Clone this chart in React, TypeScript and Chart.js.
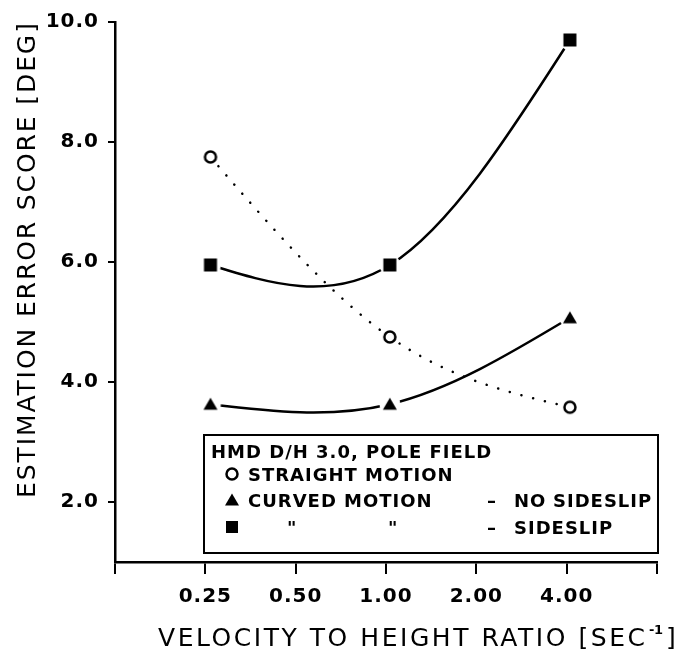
import React, { useEffect, useRef } from 'react';
import { Chart, registerables } from 'chart.js';

Chart.register(...registerables);

// ---- data ----
const velocityRatio = [0.26, 1.03, 4.1];
const straightMotion = [7.75, 4.75, 3.58];
const curvedNoSideslip = [3.63, 3.63, 5.07];
const curvedSideslip = [5.95, 5.95, 9.7];

const xTickValues = [0.125, 0.25, 0.5, 1, 2, 4, 8];
const xTickLabels = ['', '0.25', '0.50', '1.00', '2.00', '4.00', ''];
const yTickValues = [2, 4, 6, 8, 10];

const legendTitle = 'HMD D/H 3.0, POLE FIELD';
const seriesNames = ['STRAIGHT MOTION', 'CURVED MOTION', 'NO SIDESLIP', 'SIDESLIP'];
const xTitle = 'VELOCITY TO HEIGHT RATIO [SEC';
const yTitle = 'ESTIMATION ERROR SCORE [DEG]';

const FONT = "'DejaVu Sans', sans-serif";

function makeMarker(kind: 'circle' | 'triangle' | 'square'): HTMLCanvasElement {
  const size = 24;
  const c = document.createElement('canvas');
  c.width = size;
  c.height = size;
  const g = c.getContext('2d')!;
  const m = size / 2;
  g.fillStyle = '#fff';
  g.beginPath();
  g.arc(m, m, 10.5, 0, Math.PI * 2);
  g.fill();
  g.fillStyle = '#000';
  g.strokeStyle = '#000';
  if (kind === 'circle') {
    g.lineWidth = 2.5;
    g.beginPath();
    g.arc(m, m, 5.5, 0, Math.PI * 2);
    g.stroke();
  } else if (kind === 'triangle') {
    g.beginPath();
    g.moveTo(m, m - 6.5);
    g.lineTo(m + 7, m + 5.5);
    g.lineTo(m - 7, m + 5.5);
    g.closePath();
    g.fill();
  } else {
    g.fillRect(m - 6.5, m - 6.5, 13, 13);
  }
  return c;
}

function drawFitted(ctx: CanvasRenderingContext2D, text: string, x: number, y: number, width: number) {
  (ctx as any).letterSpacing = '0px';
  const w = ctx.measureText(text).width;
  const n = text.length;
  const sp = n > 1 ? (width - w) / (n - 1) : 0;
  (ctx as any).letterSpacing = sp.toFixed(2) + 'px';
  ctx.textAlign = 'left';
  ctx.fillText(text, x, y);
  (ctx as any).letterSpacing = '0px';
}

function drawSpaced(ctx: CanvasRenderingContext2D, text: string, x: number, y: number, sp: number) {
  (ctx as any).letterSpacing = sp + 'px';
  ctx.textAlign = 'left';
  ctx.fillText(text, x, y);
  (ctx as any).letterSpacing = '0px';
}

// smooth curves = natural cubic spline through the plotted points (as in the original plot)
const naturalSplinePlugin = {
  id: 'naturalSpline',
  beforeDatasetDraw(chart: any, args: any) {
    const meta = args.meta;
    meta.dataset.updateControlPoints(chart.chartArea, 'x');
    const p = meta.data;
    const n = p.length;
    if (n < 3) return;
    const h: number[] = [];
    const d: number[] = [];
    for (let i = 0; i < n - 1; i++) {
      h.push(p[i + 1].x - p[i].x);
      d.push((p[i + 1].y - p[i].y) / h[i]);
    }
    // solve for second derivatives M (M0 = Mn-1 = 0)
    const M = new Array(n).fill(0);
    const m = n - 2;
    const a: number[] = [], b: number[] = [], c: number[] = [], r: number[] = [];
    for (let i = 1; i <= m; i++) {
      a.push(h[i - 1]);
      b.push(2 * (h[i - 1] + h[i]));
      c.push(h[i]);
      r.push(6 * (d[i] - d[i - 1]));
    }
    for (let i = 1; i < m; i++) {
      const w = a[i] / b[i - 1];
      b[i] -= w * c[i - 1];
      r[i] -= w * r[i - 1];
    }
    const sol = new Array(m).fill(0);
    sol[m - 1] = r[m - 1] / b[m - 1];
    for (let i = m - 2; i >= 0; i--) sol[i] = (r[i] - c[i] * sol[i + 1]) / b[i];
    for (let i = 0; i < m; i++) M[i + 1] = sol[i];
    const s: number[] = [];
    for (let i = 0; i < n - 1; i++) s.push(d[i] - (h[i] * (2 * M[i] + M[i + 1])) / 6);
    s.push(d[n - 2] + (h[n - 2] * (M[n - 2] + 2 * M[n - 1])) / 6);
    for (let i = 0; i < n; i++) {
      const pt = p[i];
      if (i > 0) {
        const k = h[i - 1] / 3;
        pt.cp1x = pt.x - k;
        pt.cp1y = pt.y - s[i] * k;
      }
      if (i < n - 1) {
        const k = h[i] / 3;
        pt.cp2x = pt.x + k;
        pt.cp2y = pt.y + s[i] * k;
      }
    }
  },
};

const decorPlugin = {
  id: 'decor',
  beforeDraw(chart: any) {
    (chart.ctx as any).letterSpacing = '1px';
  },
  afterDraw(chart: any) {
    const ctx: CanvasRenderingContext2D = chart.ctx;
    ctx.save();
    ctx.fillStyle = '#000';
    ctx.strokeStyle = '#000';
    ctx.textBaseline = 'alphabetic';

    // Y axis title (rotated)
    ctx.save();
    ctx.font = `25px ${FONT}`;
    ctx.translate(35, 498);
    ctx.rotate(-Math.PI / 2);
    drawFitted(ctx, yTitle, 0, 0, 475);
    ctx.restore();

    // X axis title with superscript
    ctx.font = `25px ${FONT}`;
    drawFitted(ctx, xTitle, 158, 646, 487);
    ctx.font = `bold 13px ${FONT}`;
    drawFitted(ctx, '-1', 649, 634, 14);
    ctx.font = `25px ${FONT}`;
    drawFitted(ctx, ']', 666, 646, 10);

    // Legend box
    ctx.lineWidth = 2;
    ctx.strokeRect(204, 435, 454, 118);
    ctx.font = `bold 18px ${FONT}`;
    const cap = 6.5;
    const rows = [451, 474, 500, 527];
    const mx = 232;
    const tx = 248;
    drawSpaced(ctx, legendTitle, 211, rows[0] + cap, 1);
    ctx.lineWidth = 2.5;
    ctx.beginPath();
    ctx.arc(mx, rows[1], 5.5, 0, Math.PI * 2);
    ctx.stroke();
    ctx.beginPath();
    ctx.moveTo(mx, rows[2] - 6.5);
    ctx.lineTo(mx + 7, rows[2] + 5.5);
    ctx.lineTo(mx - 7, rows[2] + 5.5);
    ctx.closePath();
    ctx.fill();
    ctx.fillRect(mx - 6, rows[3] - 6, 12, 12);
    drawSpaced(ctx, seriesNames[0], tx, rows[1] + cap, 1);
    drawSpaced(ctx, seriesNames[1], tx, rows[2] + cap, 1);
    drawSpaced(ctx, '\u2013', 487, rows[2] + cap, 0);
    drawSpaced(ctx, 'NO', 514, rows[2] + cap, 1);
    drawSpaced(ctx, seriesNames[2].split(' ')[1], 553, rows[2] + cap, 1);
    drawSpaced(ctx, '"', 287, rows[3] + cap, 0);
    drawSpaced(ctx, '"', 388, rows[3] + cap, 0);
    drawSpaced(ctx, '\u2013', 487, rows[3] + cap, 0);
    drawSpaced(ctx, seriesNames[3], 514, rows[3] + cap, 1);
    ctx.restore();
  },
};

export default function App() {
  const ref = useRef<HTMLCanvasElement | null>(null);
  useEffect(() => {
    document.body.style.margin = '0';
    const canvas = ref.current!;
    const circle = makeMarker('circle');
    const tri = makeMarker('triangle');
    const sq = makeMarker('square');
    const pts = (ys: number[]) => velocityRatio.map((x, i) => ({ x, y: ys[i] }));
    const tickFont = { family: FONT, size: 20, weight: 'bold' as const };
    const chart = new Chart(canvas, {
      type: 'line',
      data: {
        datasets: [
          {
            label: 'STRAIGHT MOTION',
            data: pts(straightMotion),
            borderColor: '#000',
            borderWidth: 2.5,
            borderDash: [0.1, 12],
            borderCapStyle: 'round',
            tension: 0.4,
            pointStyle: circle as any,
            pointRadius: 6,
          },
          {
            label: 'CURVED MOTION - NO SIDESLIP',
            data: pts(curvedNoSideslip),
            borderColor: '#000',
            borderWidth: 2.5,
            tension: 0.4,
            pointStyle: tri as any,
            pointRadius: 6,
          },
          {
            label: 'CURVED MOTION - SIDESLIP',
            data: pts(curvedSideslip),
            borderColor: '#000',
            borderWidth: 2.5,
            tension: 0.4,
            pointStyle: sq as any,
            pointRadius: 6,
          },
        ],
      } as any,
      options: {
        animation: false,
        responsive: false,
        events: [],
        layout: { padding: { top: 22, right: 38, left: 0, bottom: 0 } },
        plugins: { legend: { display: false }, tooltip: { enabled: false } },
        scales: {
          x: {
            type: 'logarithmic',
            min: 0.125,
            max: 8,
            afterBuildTicks: (s: any) => {
              s.ticks = xTickValues.map((v) => ({ value: v }));
            },
            afterFit: (s: any) => {
              s.height = 96;
            },
            ticks: {
              autoSkip: false,
              maxRotation: 0,
              color: '#000',
              font: tickFont,
              padding: 11,
              callback: (_v: any, i: number) => xTickLabels[i],
            },
            grid: { drawOnChartArea: false, drawTicks: true, tickLength: 12, color: '#000', lineWidth: 2 },
            border: { display: true, color: '#000', width: 2.5 },
          },
          y: {
            type: 'linear',
            min: 1,
            max: 10,
            afterBuildTicks: (s: any) => {
              s.ticks = yTickValues.map((v) => ({ value: v }));
            },
            afterFit: (s: any) => {
              s.width = 115;
            },
            ticks: {
              color: '#000',
              font: tickFont,
              padding: 9,
              callback: (v: any) => Number(v).toFixed(1),
            },
            grid: { drawOnChartArea: false, drawTicks: true, tickLength: 7, color: '#000', lineWidth: 2 },
            border: { display: true, color: '#000', width: 2.5 },
          },
        },
      } as any,
      plugins: [naturalSplinePlugin, decorPlugin],
    });
    return () => chart.destroy();
  }, []);
  return (
    <div style={{ width: 695, height: 658 }}>
      <canvas ref={ref} width={695} height={658} style={{ width: 695, height: 658, display: 'block' }} />
    </div>
  );
}
